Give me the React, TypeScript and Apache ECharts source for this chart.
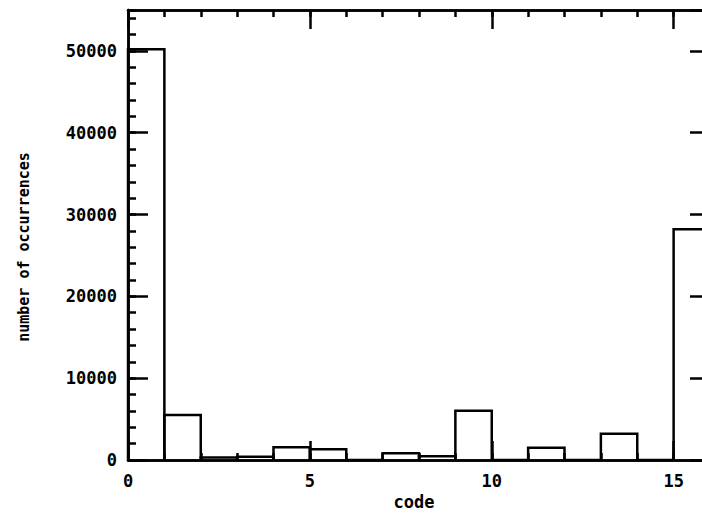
import React, { useEffect, useRef } from "react";
import * as echarts from "echarts";

const binStarts = [0, 1, 2, 3, 4, 5, 6, 7, 8, 9, 10, 11, 12, 13, 14, 15];
const binWidth = 1;
const counts = [50200, 5500, 300, 400, 1550, 1300, 0, 820, 450, 6030, 0, 1500, 0, 3200, 0, 28200];
const xTitle = "code";
const yTitle = "number of occurrences";

const FONT = "DejaVu Sans Mono";

export default function App() {
  const ref = useRef<HTMLDivElement>(null);
  useEffect(() => {
    if (!ref.current) return;
    const chart = echarts.init(ref.current, null, { renderer: "svg" });
    const data = binStarts.map((s, i) => [s, s + binWidth, counts[i]]);
    const LW = 2.5;
    const line = { show: true, onZero: false, lineStyle: { color: "#000", width: LW } };
    const noLabel = { show: false };
    const majorX = { show: true, inside: true, length: 19, lineStyle: { color: "#000", width: LW } };
    const minorT = { show: true, inside: true, length: 7, lineStyle: { color: "#000", width: LW } };
    const baseX = { type: "value", min: 0, max: 16, splitLine: { show: false }, axisLine: line };
    const baseY = { type: "value", min: 0, max: 55000, splitLine: { show: false }, axisLine: line };
    const labelStyle = {
      color: "#000",
      fontFamily: FONT,
      fontWeight: "bold",
      fontSize: 17,
      formatter: (v: number) => String(v),
    };
    chart.setOption({
      animation: false,
      backgroundColor: "#fff",
      grid: {
        left: 128,
        top: 10,
        width: 582,
        height: 450,
        containLabel: false,
        outerBoundsMode: "none",
      },
      xAxis: [
        { ...baseX, position: "bottom", interval: 5, axisTick: majorX,
          axisLabel: { ...labelStyle, margin: 12, showMaxLabel: false } },
        { ...baseX, position: "bottom", interval: 1, axisTick: minorT, axisLabel: noLabel },
        { ...baseX, position: "top", interval: 5, axisTick: majorX, axisLabel: noLabel },
        { ...baseX, position: "top", interval: 1, axisTick: minorT, axisLabel: noLabel },
      ],
      yAxis: [
        { ...baseY, position: "left", interval: 10000, axisTick: { ...majorX, length: 20 },
          axisLabel: { ...labelStyle, margin: 11, showMaxLabel: false } },
        { ...baseY, position: "left", interval: 2000, axisTick: { ...minorT, length: 8 }, axisLabel: noLabel },
        { ...baseY, position: "right", interval: 10000, axisTick: { ...majorX, length: 20 }, axisLabel: noLabel },
        { ...baseY, position: "right", interval: 2000, axisTick: { ...minorT, length: 8 }, axisLabel: noLabel },
      ],
      series: [
        {
          type: "custom",
          xAxisIndex: 0,
          yAxisIndex: 0,
          encode: { x: [0, 1], y: 2 },
          data,
          renderItem: (params: any, api: any) => {
            const x0 = api.value(0);
            const x1 = api.value(1);
            const v = api.value(2);
            const pTop = api.coord([x0, v]);
            const pBot = api.coord([x1, 0]);
            return {
              type: "polyline",
              shape: {
                points: [
                  [pTop[0], pBot[1]],
                  [pTop[0], pTop[1]],
                  [pBot[0], pTop[1]],
                  [pBot[0], pBot[1]],
                ],
              },
              style: { stroke: "#000", lineWidth: LW, fill: "none" },
            };
          },
        },
      ],
      graphic: [
        {
          type: "text",
          x: 414,
          y: 502,
          style: {
            text: xTitle,
            fill: "#000",
            font: `bold 17px "${FONT}"`,
            align: "center",
            verticalAlign: "middle",
          },
        },
        {
          type: "text",
          x: 24,
          y: 247,
          rotation: Math.PI / 2,
          style: {
            text: yTitle,
            fill: "#000",
            font: `bold 15px "${FONT}"`,
            align: "center",
            verticalAlign: "middle",
          },
        },
      ],
    });
    return () => chart.dispose();
  }, []);
  return (
    <div
      ref={ref}
      style={{ position: "fixed", left: 0, top: 0, width: 702, height: 514, background: "#fff" }}
    />
  );
}
